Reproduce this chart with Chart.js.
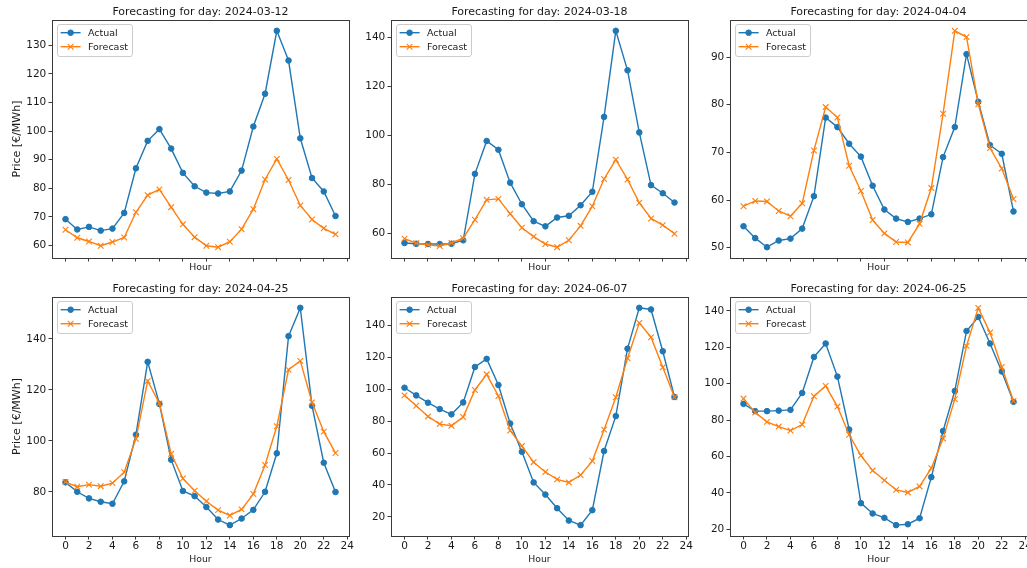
<!DOCTYPE html>
<html>
<head>
<meta charset="utf-8">
<script src="https://cdn.jsdelivr.net/npm/chart.js@4.4.1/dist/chart.umd.min.js"></script>
<style>
  html, body { margin: 0; padding: 0; background: #ffffff; }
  body { position: relative; width: 1027px; height: 568px; overflow: hidden; }
  canvas { position: absolute; }
</style>
</head>
<body>
<script>
// Hours of the day (x categories) and the x tick labels
const hours = [0, 1, 2, 3, 4, 5, 6, 7, 8, 9, 10, 11, 12, 13, 14, 15, 16, 17, 18, 19, 20, 21, 22, 23];
const hourTicks = [0, 2, 4, 6, 8, 10, 12, 14, 16, 18, 20, 22, 24];

const days = ['2024-03-12', '2024-03-18', '2024-04-04', '2024-04-25', '2024-06-07', '2024-06-25'];

// Day-ahead prices, €/MWh
const actual0312   = [69.2, 65.6, 66.5, 65.2, 65.9, 71.4, 87.0, 96.6, 100.7, 93.9, 85.4, 80.7, 78.5, 78.2, 78.9, 86.2, 101.6, 113.1, 135.1, 124.7, 97.5, 83.6, 78.9, 70.3];
const forecast0312 = [65.5, 62.7, 61.4, 59.9, 61.2, 62.8, 71.6, 77.6, 79.6, 73.4, 67.4, 62.9, 59.9, 59.4, 61.3, 65.7, 72.7, 83.1, 90.3, 82.9, 74.0, 69.1, 66.0, 63.9];

const actual0318   = [56.2, 55.9, 55.8, 55.8, 55.9, 57.3, 84.4, 97.8, 94.2, 80.8, 72.0, 65.1, 63.0, 66.6, 67.3, 71.6, 77.1, 107.6, 142.7, 126.6, 101.3, 79.8, 76.5, 72.7];
const forecast0318 = [58.0, 56.1, 55.5, 55.0, 56.2, 58.2, 65.7, 73.8, 74.2, 68.1, 62.4, 58.8, 55.8, 54.5, 57.3, 63.2, 71.2, 82.3, 90.2, 82.1, 72.6, 66.2, 63.5, 60.0];

const actual0404   = [54.5, 52.0, 50.1, 51.5, 51.9, 54.0, 60.8, 77.3, 75.3, 71.8, 69.1, 63.0, 58.0, 56.1, 55.4, 56.1, 57.0, 69.0, 75.3, 90.6, 80.6, 71.5, 69.7, 57.6];
const forecast0404 = [58.7, 59.8, 59.7, 57.7, 56.6, 59.3, 70.4, 79.5, 77.3, 67.2, 61.9, 55.8, 53.0, 51.2, 51.1, 55.0, 62.5, 78.1, 95.5, 94.2, 80.1, 70.9, 66.6, 60.2];

const actual0425   = [83.7, 80.0, 77.4, 76.1, 75.3, 84.1, 102.4, 131.0, 114.5, 92.6, 80.3, 78.3, 74.0, 69.1, 66.9, 69.5, 72.9, 80.0, 95.1, 141.1, 152.2, 113.8, 91.4, 79.9];
const forecast0425 = [83.8, 82.0, 82.8, 82.2, 83.4, 87.7, 100.8, 123.5, 114.7, 94.9, 85.2, 80.4, 76.3, 72.8, 70.7, 73.1, 79.1, 90.5, 105.7, 127.9, 131.4, 115.1, 103.6, 95.2];

const actual0607   = [101.0, 96.2, 91.6, 87.6, 84.3, 91.8, 114.0, 119.1, 102.7, 78.6, 60.8, 41.6, 34.0, 25.4, 17.7, 14.8, 24.2, 61.3, 83.2, 125.5, 151.1, 150.1, 123.9, 95.2];
const forecast0607 = [96.2, 89.7, 83.0, 78.2, 77.2, 82.6, 99.6, 109.4, 95.8, 74.2, 64.4, 54.3, 48.1, 43.5, 41.6, 46.2, 55.0, 74.7, 95.0, 119.5, 141.7, 132.7, 113.8, 95.0];

const actual0625   = [88.9, 84.9, 84.9, 85.2, 85.6, 94.9, 114.7, 122.1, 103.9, 74.8, 34.3, 28.6, 26.2, 22.2, 22.7, 26.0, 48.6, 74.0, 96.0, 129.0, 136.7, 122.1, 106.7, 90.0];
const forecast0625 = [91.8, 84.1, 79.0, 76.4, 74.2, 77.5, 93.1, 98.8, 87.4, 71.9, 60.5, 52.2, 46.9, 41.6, 40.2, 43.5, 53.5, 69.8, 91.5, 120.8, 141.7, 128.1, 109.2, 90.5];

// Price tick labels of each panel
const yTicks0312 = [60, 70, 80, 90, 100, 110, 120, 130];
const yTicks0318 = [60, 80, 100, 120, 140];
const yTicks0404 = [50, 60, 70, 80, 90];
const yTicks0425 = [80, 100, 120, 140];
const yTicks0607 = [20, 40, 60, 80, 100, 120, 140];
const yTicks0625 = [20, 40, 60, 80, 100, 120, 140];

const panels = [
  { day: days[0], actual: actual0312, forecast: forecast0312, yTicks: yTicks0312 },
  { day: days[1], actual: actual0318, forecast: forecast0318, yTicks: yTicks0318 },
  { day: days[2], actual: actual0404, forecast: forecast0404, yTicks: yTicks0404 },
  { day: days[3], actual: actual0425, forecast: forecast0425, yTicks: yTicks0425 },
  { day: days[4], actual: actual0607, forecast: forecast0607, yTicks: yTicks0607 },
  { day: days[5], actual: actual0625, forecast: forecast0625, yTicks: yTicks0625 }
];

// ---- figure geometry (2 x 3 grid of axes) ----
const AX_LEFT = [52, 391, 730];
const AX_TOP = [20, 297];
const AX_W = 297;
const AX_H = [238, 239];
const Y_AXIS_W = 52;
const TITLE_H = 20;
const X_AXIS_H = [19, 32];
const HOUR_PAD = [3.4, 2.4];
const RIGHT_PAD = 9;

const BLUE = '#1f77b4';
const ORANGE = '#ff7f0e';
const INK = '#1a1a1a';
const SPINE = '#3a3a3a';
const FONT = "'DejaVu Sans', 'Liberation Sans', sans-serif";

Chart.defaults.font.family = FONT;
Chart.defaults.color = INK;

// 5% margins around the data, like matplotlib autoscaling
function paddedRange(values) {
  const min = Math.min(...values), max = Math.max(...values);
  const m = (max - min) * 0.05;
  return [min - m, max + m];
}

// Frame around the plotting area
const spinesPlugin = {
  id: 'spines',
  afterDatasetsDraw(chart) {
    const { ctx, chartArea: a } = chart;
    ctx.save();
    ctx.strokeStyle = SPINE;
    ctx.lineWidth = 1;
    ctx.strokeRect(Math.round(a.left) + 0.5, Math.round(a.top) + 0.5,
                   Math.round(a.right - a.left), Math.round(a.bottom - a.top));
    ctx.restore();
  }
};

// Framed legend in the upper-left corner of the plotting area
const boxLegendPlugin = {
  id: 'boxLegend',
  afterDraw(chart) {
    const { ctx, chartArea: a } = chart;
    const sets = chart.data.datasets;
    const x0 = a.left + 5.3, y0 = a.top + 4.3;
    const rowH = 14, firstRow = 8.4;
    const lineX0 = 3.3, lineLen = 20, textX = 30.6;
    ctx.save();
    ctx.font = '9.5px ' + FONT;
    const textW = Math.max(...sets.map(d => ctx.measureText(d.label).width));
    const w = textX + textW + 4, h = firstRow * 2 + rowH * (sets.length - 1) + 1.5;
    ctx.beginPath();
    ctx.roundRect(Math.round(x0) + 0.5, Math.round(y0) + 0.5, Math.round(w), Math.round(h), 2.5);
    ctx.fillStyle = 'rgba(255,255,255,0.8)';
    ctx.fill();
    ctx.strokeStyle = '#cccccc';
    ctx.lineWidth = 1;
    ctx.stroke();
    sets.forEach((d, i) => {
      const y = y0 + firstRow + rowH * i;
      ctx.strokeStyle = d.borderColor;
      ctx.lineWidth = d.borderWidth;
      ctx.beginPath();
      ctx.moveTo(x0 + lineX0, y);
      ctx.lineTo(x0 + lineX0 + lineLen, y);
      ctx.stroke();
      ctx.fillStyle = d.pointBackgroundColor;
      ctx.strokeStyle = d.pointBorderColor;
      ctx.lineWidth = d.pointBorderWidth;
      Chart.helpers.drawPoint(ctx, {
        pointStyle: d.pointStyle, radius: d.pointRadius, rotation: 0, borderWidth: d.pointBorderWidth
      }, x0 + lineX0 + lineLen / 2, y);
      ctx.fillStyle = INK;
      ctx.textBaseline = 'middle';
      ctx.textAlign = 'left';
      ctx.fillText(d.label, x0 + textX, y + 0.5);
    });
    ctx.restore();
  }
};

panels.forEach((p, i) => {
  const col = i % 3, row = Math.floor(i / 3);
  const canvas = document.createElement('canvas');
  const cw = Y_AXIS_W + AX_W + RIGHT_PAD;
  const ch = TITLE_H + AX_H[row] + X_AXIS_H[row];
  canvas.width = cw;
  canvas.height = ch;
  canvas.style.width = cw + 'px';
  canvas.style.height = ch + 'px';
  canvas.style.left = (AX_LEFT[col] - Y_AXIS_W) + 'px';
  canvas.style.top = (AX_TOP[row] - TITLE_H) + 'px';
  document.body.appendChild(canvas);

  const [yMin, yMax] = paddedRange(p.actual.concat(p.forecast));
  const [xMin, xMax] = paddedRange(hours);
  const showX = row === 1;

  new Chart(canvas, {
    type: 'line',
    data: {
      datasets: [
        {
          label: 'Actual',
          data: hours.map((h, k) => ({ x: h, y: p.actual[k] })),
          borderColor: BLUE,
          backgroundColor: BLUE,
          borderWidth: 1.4,
          pointStyle: 'circle',
          pointRadius: 2.8,
          pointBorderWidth: 1,
          pointBackgroundColor: BLUE,
          pointBorderColor: BLUE,
          tension: 0,
          order: 2
        },
        {
          label: 'Forecast',
          data: hours.map((h, k) => ({ x: h, y: p.forecast[k] })),
          borderColor: ORANGE,
          backgroundColor: ORANGE,
          borderWidth: 1.4,
          pointStyle: 'crossRot',
          pointRadius: 4,
          pointBorderWidth: 1.1,
          pointBackgroundColor: ORANGE,
          pointBorderColor: ORANGE,
          tension: 0,
          order: 1
        }
      ]
    },
    options: {
      responsive: false,
      animation: false,
      events: [],
      devicePixelRatio: 1,
      layout: { padding: { left: 0, top: 0, right: RIGHT_PAD, bottom: 0 } },
      plugins: {
        legend: { display: false },
        tooltip: { enabled: false },
        title: {
          display: true,
          text: 'Forecasting for day: ' + p.day,
          fullSize: false,
          color: INK,
          font: { size: 11, weight: 'normal', lineHeight: 1.2 },
          padding: { top: 5.4, bottom: 1.4 }
        }
      },
      scales: {
        x: {
          type: 'linear',
          min: xMin,
          max: xMax,
          grid: { drawOnChartArea: false, drawTicks: true, tickLength: 3.5, tickWidth: 1, tickColor: SPINE },
          border: { display: false },
          ticks: { display: showX, autoSkip: false, maxRotation: 0, padding: 0.7, color: INK, font: { size: 10.5 } },
          title: { display: true, text: 'Hour', color: INK, font: { size: 9.3, lineHeight: 1.2 }, padding: { top: 0, bottom: HOUR_PAD[row] } },
          afterBuildTicks(scale) { scale.ticks = hourTicks.map(v => ({ value: v })); },
          afterFit(scale) {
            scale.height = X_AXIS_H[row];
            scale.paddingLeft = 0; scale.paddingRight = 0;
          }
        },
        y: {
          type: 'linear',
          min: yMin,
          max: yMax,
          grid: { drawOnChartArea: false, drawTicks: true, tickLength: 3.5, tickWidth: 1, tickColor: SPINE },
          border: { display: false },
          ticks: { padding: 2.2, color: INK, font: { size: 10.5 } },
          title: { display: col === 0, text: 'Price [€/MWh]', color: INK, font: { size: 11, lineHeight: 1.2 }, padding: { top: 10.4, bottom: 0 } },
          afterBuildTicks(scale) { scale.ticks = p.yTicks.map(v => ({ value: v })); },
          afterFit(scale) {
            scale.width = Y_AXIS_W;
            scale.paddingTop = 0; scale.paddingBottom = 0;
          }
        }
      }
    },
    plugins: [spinesPlugin, boxLegendPlugin]
  });
});
</script>
</body>
</html>
